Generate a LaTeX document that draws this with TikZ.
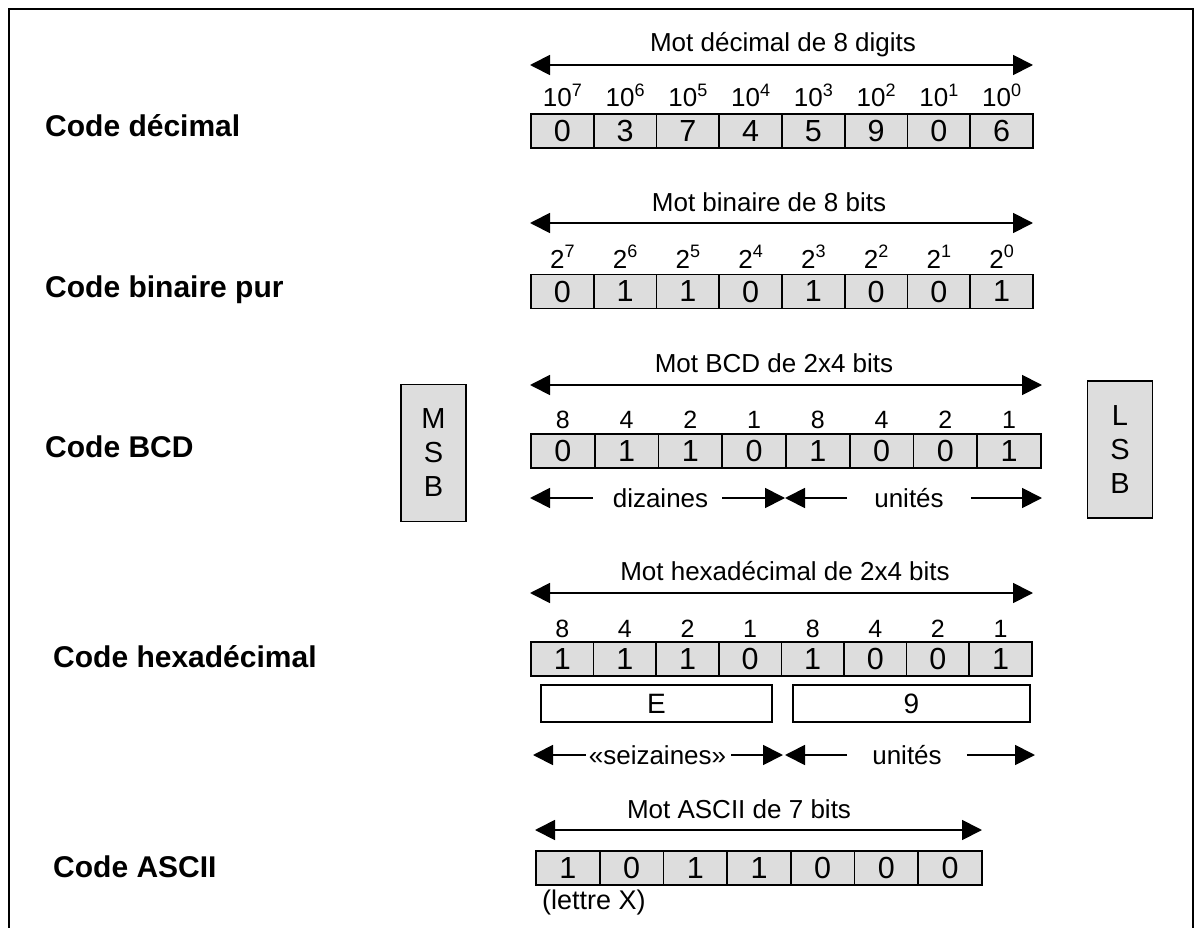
\documentclass[tikz,border=0pt]{standalone}
\usepackage{fontspec}
\setmainfont{Liberation Sans}
\usetikzlibrary{arrows.meta}
\definecolor{cellgray}{RGB}{221,221,221}
\begin{document}
\begin{tikzpicture}[x=1pt,y=-1pt,
 cellbox/.style={draw, line width=1.6pt, fill=cellgray, minimum height=34pt, inner sep=0pt, font=\fontsize{30.5}{30.5}\selectfont},
 titletext/.style={anchor=base, font=\fontsize{26}{26}\selectfont, inner sep=0pt},
 weight/.style={anchor=base, font=\fontsize{25}{25}\selectfont, inner sep=0pt},
 power/.style={anchor=base, font=\fontsize{26}{26}\selectfont, inner sep=0pt},
 codelabel/.style={anchor=base west, font=\bfseries\fontsize{30}{30}\selectfont, inner sep=0pt},
 span/.style={line width=1.8pt, {Triangle[length=20pt,width=20pt]}-{Triangle[length=20pt,width=20pt]}},
 half/.style={line width=1.8pt, -{Triangle[length=20pt,width=20pt]}},
 sidebox/.style={draw, line width=1.5pt, fill=cellgray, minimum width=65pt, minimum height=137pt, align=center, font=\fontsize{29}{34}\selectfont},
 hexbox/.style={draw, line width=1.5pt, fill=white, minimum height=37pt, inner sep=0pt, font=\fontsize{28}{28}\selectfont},
 midtext/.style={font=\fontsize{26}{26}\selectfont, inner sep=0pt}
]
\useasboundingbox (0,0) rectangle (1202,928);
\draw[line width=2pt] (9,940) -- (9,9) -- (1193,9) -- (1193,940);

% left labels
\node[codelabel] (labdec) at (45,137) {Code décimal};
\node[codelabel] (labbin) at (45,297) {Code binaire pur};
\node[codelabel] (labbcd) at (45,457) {Code BCD};
\node[codelabel] (labhex) at (53,667) {Code hexadécimal};
\node[codelabel] (labascii) at (53,877) {Code ASCII};

% decimal
\node[titletext] (dectitle) at (783,52) {Mot décimal de 8 digits};
\coordinate (decL) at (530,65); \coordinate (decR) at (1033,65);
\draw[span] (decL) -- (decR);
\foreach \e [count=\i from 0] in {7,6,5,4,3,2,1,0}
  \node[power] (decw\i) at ({531+(\i+0.5)*62.75},107) {10\raisebox{10pt}{\fontsize{18}{18}\selectfont\e}};
\foreach \v [count=\i from 0] in {0,3,7,4,5,9,0,6}
  \node[cellbox, minimum width=62.75pt] (dec\i) at ({531+(\i+0.5)*62.75},131) {\v};

% binary
\node[titletext] (bintitle) at (769,212) {Mot binaire de 8 bits};
\coordinate (binL) at (530,223); \coordinate (binR) at (1033,223);
\draw[span] (binL) -- (binR);
\foreach \e [count=\i from 0] in {7,6,5,4,3,2,1,0}
  \node[power] (binw\i) at ({531+(\i+0.5)*62.75},268) {2\raisebox{10pt}{\fontsize{18}{18}\selectfont\e}};
\foreach \v [count=\i from 0] in {0,1,1,0,1,0,0,1}
  \node[cellbox, minimum width=62.75pt] (bin\i) at ({531+(\i+0.5)*62.75},291.5) {\v};

% BCD
\node[titletext] (bcdtitle) at (774,372) {Mot BCD de 2x4 bits};
\coordinate (bcdL) at (530,385); \coordinate (bcdR) at (1042,385);
\draw[span] (bcdL) -- (bcdR);
\foreach \w [count=\i from 0] in {8,4,2,1,8,4,2,1}
  \node[weight] (bcdw\i) at ({531+(\i+0.5)*63.75},428) {\w};
\foreach \v [count=\i from 0] in {0,1,1,0,1,0,0,1}
  \node[cellbox, minimum width=63.75pt] (bcd\i) at ({531+(\i+0.5)*63.75},451) {\v};
\node[sidebox] (msb) at (433.5,453) {M\\S\\B};
\node[sidebox] (lsb) at (1120,449.5) {L\\S\\B};
\node[midtext] (diz) at (660.5,498) {dizaines};
\coordinate (dizL) at (530,498); \coordinate (dizR) at (785,498);
\draw[half, shorten <=20pt] (diz.west) -- (dizL);
\draw[half, shorten <=14pt] (diz.east) -- (dizR);
\node[midtext] (bcdu) at (909,498) {unités};
\coordinate (bcduL) at (785,498); \coordinate (bcduR) at (1042,498);
\draw[half, shorten <=27pt] (bcdu.west) -- (bcduL);
\draw[half, shorten <=27pt] (bcdu.east) -- (bcduR);

% hexadecimal
\node[titletext] (hextitle) at (785,580) {Mot hexadécimal de 2x4 bits};
\coordinate (hexL) at (530,593); \coordinate (hexR) at (1033,593);
\draw[span] (hexL) -- (hexR);
\foreach \w [count=\i from 0] in {8,4,2,1,8,4,2,1}
  \node[weight] (hexw\i) at ({531+(\i+0.5)*62.6},637) {\w};
\foreach \v [count=\i from 0] in {1,1,1,0,1,0,0,1}
  \node[cellbox, minimum width=62.6pt] (hex\i) at ({531+(\i+0.5)*62.6},659) {\v};
\node[hexbox, minimum width=231pt] (hexE) at (656.5,703.5) {E};
\node[hexbox, minimum width=237pt] (hexN) at (911.5,703.5) {9};
\node[midtext] (seiz) at (657.5,755) {«seizaines»};
\coordinate (seizL) at (533,755); \coordinate (seizR) at (783,755);
\draw[half, shorten <=3pt] (seiz.west) -- (seizL);
\draw[half, shorten <=5pt] (seiz.east) -- (seizR);
\node[midtext] (hexu) at (907,755) {unités};
\coordinate (hexuL) at (785,755); \coordinate (hexuR) at (1035,755);
\draw[half, shorten <=25pt] (hexu.west) -- (hexuL);
\draw[half, shorten <=25pt] (hexu.east) -- (hexuR);

% ASCII
\node[titletext] (asctitle) at (739,818) {Mot ASCII de 7 bits};
\coordinate (ascL) at (535,830); \coordinate (ascR) at (982,830);
\draw[span] (ascL) -- (ascR);
\foreach \v [count=\i from 0] in {1,0,1,1,0,0,0}
  \node[cellbox, minimum width=63.71pt] (asc\i) at ({536+(\i+0.5)*63.71},868) {\v};
\node[anchor=base west, inner sep=0pt, font=\fontsize{27}{27}\selectfont] (lettre) at (542,909) {(lettre X)};
\end{tikzpicture}
\end{document}
